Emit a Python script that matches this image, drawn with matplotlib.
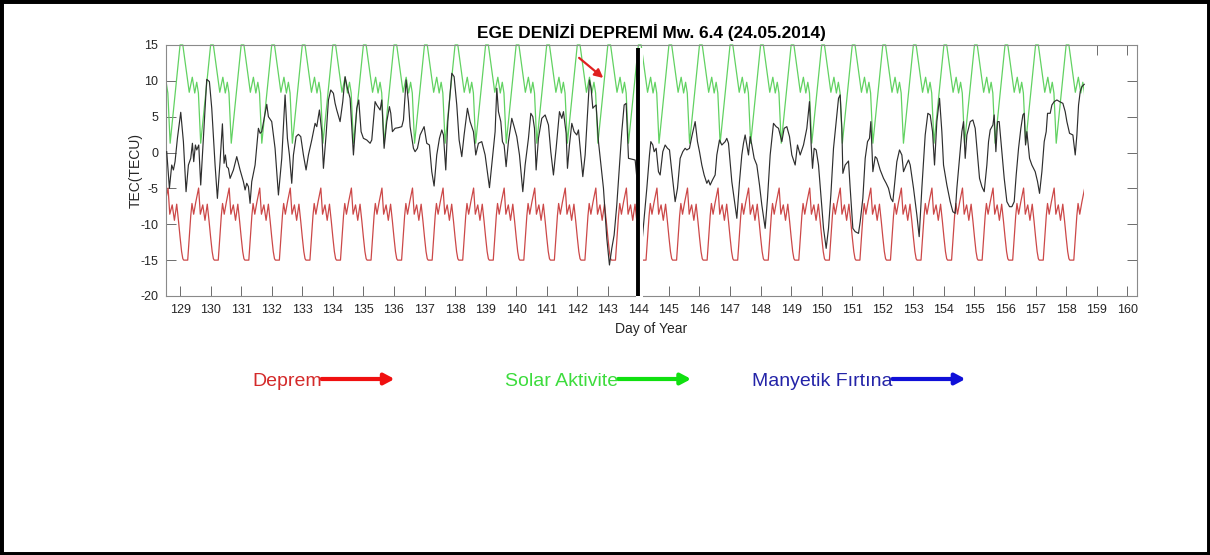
import numpy as np
import matplotlib
matplotlib.use("Agg")
import matplotlib.pyplot as plt
from matplotlib.patches import Rectangle, FancyArrowPatch

plt.rcParams["font.family"] = ["Liberation Sans", "DejaVu Sans"]
plt.rcParams["axes.unicode_minus"] = False

# ---------------------------------------------------------------- data
title = "EGE DENİZİ DEPREMİ Mw. 6.4 (24.05.2014)"
xlabel = "Day of Year"
ylabel = "TEC(TECU)"

obs_start, obs_end = 128.54, 158.59     # observation window (day of year)
quake_day = 144.0                        # earthquake day
gap_start, gap_end = 143.92, 144.15      # no data around the event marker

# daily profile of the upper bound (fraction of day, TECU)
upper_frac = np.array([0.00, 0.09, 0.30, 0.40, 0.48, 0.545, 0.60, 0.675])
upper_val = np.array([15.0, 15.0, 8.4, 10.5, 8.3, 9.8, 8.3, 1.3])

# daily profile of the lower bound (fraction of day, TECU)
lower_frac = np.array([0.00, 0.05, 0.09, 0.12, 0.25, 0.30, 0.35, 0.39,
                       0.445, 0.515, 0.607, 0.663, 0.743, 0.815, 0.89, 0.95])
lower_val = np.array([-11.8, -13.8, -14.8, -15.0, -15.0, -12.0, -8.8, -7.1,
                      -8.6, -6.9, -4.95, -8.6, -7.3, -9.45, -7.2, -9.6])

# observed TEC variation
tec_day = [
    128.563, 128.651, 128.727, 128.782, 128.836, 128.913, 129.022, 129.109, 129.196, 129.273,
    129.349, 129.404, 129.447, 129.502, 129.546, 129.611, 129.676, 129.764, 129.873, 129.960,
    130.037, 130.146, 130.222, 130.309, 130.386, 130.440, 130.484, 130.528, 130.582, 130.637,
    130.746, 130.855, 130.964, 131.073, 131.128, 131.182, 131.237, 131.291, 131.346, 131.455,
    131.564, 131.619, 131.673, 131.837, 131.891, 132.000, 132.109, 132.219, 132.328, 132.437,
    132.513, 132.579, 132.655, 132.710, 132.797, 132.873, 132.950, 133.037, 133.124, 133.201,
    133.310, 133.419, 133.474, 133.561, 133.637, 133.692, 133.779, 133.856, 133.932, 134.019,
    134.074, 134.128, 134.237, 134.325, 134.401, 134.477, 134.565, 134.674, 134.728, 134.783,
    134.848, 134.925, 135.001, 135.110, 135.219, 135.274, 135.383, 135.438, 135.547, 135.601,
    135.678, 135.765, 135.852, 135.896, 135.950, 136.038, 136.147, 136.256, 136.311, 136.398,
    136.474, 136.529, 136.638, 136.692, 136.769, 136.856, 136.987, 137.074, 137.161, 137.238,
    137.314, 137.401, 137.489, 137.565, 137.620, 137.696, 137.762, 137.893, 137.969, 138.056,
    138.133, 138.220, 138.296, 138.405, 138.493, 138.602, 138.678, 138.765, 138.874, 138.984,
    139.126, 139.202, 139.311, 139.366, 139.420, 139.497, 139.551, 139.606, 139.671, 139.747,
    139.857, 139.933, 140.020, 140.108, 140.217, 140.293, 140.402, 140.479, 140.544, 140.599,
    140.653, 140.729, 140.839, 140.948, 141.057, 141.133, 141.220, 141.308, 141.417, 141.493,
    141.548, 141.635, 141.679, 141.744, 141.821, 141.897, 141.984, 142.039, 142.115, 142.181,
    142.257, 142.333, 142.399, 142.453, 142.508, 142.552, 142.617, 142.693, 142.857, 142.966,
    143.053, 143.130, 143.206, 143.293, 143.381, 143.457, 143.534, 143.599, 143.676, 143.894,
    144.134, 144.199, 144.276, 144.363, 144.407, 144.472, 144.516, 144.581, 144.657, 144.712,
    144.799, 144.876, 144.952, 145.018, 145.094, 145.203, 145.280, 145.367, 145.454, 145.530,
    145.585, 145.672, 145.748, 145.858, 145.934, 146.000, 146.076, 146.152, 146.240, 146.294,
    146.349, 146.425, 146.512, 146.567, 146.654, 146.731, 146.840, 146.894, 146.949, 147.058,
    147.134, 147.222, 147.309, 147.385, 147.440, 147.494, 147.549, 147.604, 147.658, 147.713,
    147.789, 147.876, 147.964, 148.040, 148.149, 148.226, 148.313, 148.422, 148.509, 148.586,
    148.695, 148.771, 148.858, 148.946, 149.022, 149.131, 149.207, 149.295, 149.404, 149.513,
    149.600, 149.655, 149.699, 149.753, 149.819, 149.895, 149.972, 150.059, 150.146, 150.222,
    150.299, 150.386, 150.473, 150.550, 150.604, 150.659, 150.692, 150.768, 150.877, 150.932,
    151.019, 151.095, 151.204, 151.259, 151.346, 151.423, 151.499, 151.564, 151.608, 151.674,
    151.750, 151.805, 151.914, 152.023, 152.110, 152.186, 152.263, 152.328, 152.372, 152.459,
    152.546, 152.623, 152.677, 152.765, 152.841, 152.896, 153.005, 153.114, 153.190, 153.277,
    153.387, 153.474, 153.550, 153.627, 153.692, 153.768, 153.856, 153.932, 153.987, 154.096,
    154.205, 154.292, 154.369, 154.423, 154.511, 154.587, 154.641, 154.696, 154.751, 154.860,
    154.947, 155.023, 155.100, 155.165, 155.242, 155.318, 155.405, 155.460, 155.514, 155.602,
    155.645, 155.700, 155.755, 155.809, 155.896, 155.973, 156.060, 156.147, 156.224, 156.300,
    156.365, 156.442, 156.518, 156.584, 156.627, 156.671, 156.715, 156.802, 156.878, 156.933,
    156.987, 157.064, 157.129, 157.206, 157.282, 157.347, 157.391, 157.478, 157.533, 157.609,
    157.697, 157.784, 157.893, 157.969, 158.024, 158.111, 158.220, 158.297, 158.351, 158.406,
    158.460, 158.515, 158.591,
]
tec_val = [
    0.12, -4.99, -1.74, -2.43, -1.27, 1.98, 5.61, 1.52, -5.46, -1.74,
    -0.81, 1.29, -1.27, 1.05, 0.36, 1.05, -4.53, 1.98, 10.21, 9.89,
    6.17, -1.74, -6.39, -1.27, 4.0, -1.50, -0.34, -1.97, -2.20, -3.60,
    -2.43, -0.57, -2.43, -4.06, -5.22, -4.29, -4.76, -7.08, -4.06, -1.74,
    3.38, 2.68, 2.91, 6.72, 5.00, 4.31, 0.59, -5.92, -0.81, 8.03,
    1.98, -0.34, -4.29, -0.34, 2.22, 2.54, 2.22, -0.34, -2.43, -0.34,
    1.75, 4.07, 3.61, 5.93, 2.91, -2.20, 2.45, 7.33, 8.72, 8.26,
    6.86, 5.93, 4.31, 7.10, 10.58, 8.96, 7.56, -0.34, 2.91, 6.17,
    7.33, 2.91, 1.98, 1.75, 1.29, 1.75, 7.10, 6.63, 5.93, 7.33,
    0.59, 4.31, 6.40, 5.47, 2.91, 3.38, 3.47, 3.61, 4.54, 10.12,
    7.10, 3.61, 0.59, 0.12, 0.59, 2.45, 3.61, 1.29, 1.05, -2.67,
    -4.67, -0.34, 1.98, 3.15, 2.45, -2.43, 4.31, 11.05, 10.58, 6.63,
    1.75, -0.57, 2.45, 6.17, 4.31, 2.91, -0.34, 1.29, 1.52, -0.34,
    -4.90, -1.74, 2.91, 8.96, 5.70, 4.31, 1.52, 1.05, -1.97, 1.52,
    4.77, 3.61, 2.22, -0.34, -5.46, -1.74, 1.98, 5.47, 5.00, 3.38,
    -2.43, 1.98, 4.77, 5.24, 3.84, 0.12, -3.13, 0.59, 5.70, 4.77,
    5.70, 2.68, -2.20, 1.05, 4.07, 2.91, 2.45, 3.15, -0.34, -3.36,
    -0.34, 5.24, 10.12, 8.96, 6.17, 6.40, 6.63, 1.52, -4.99, -11.96,
    -15.68, -13.36, -11.50, -7.32, -1.74, 2.91, 6.63, 6.86, -0.81, -1.04,
    -11.73, -8.71, -4.99, -0.34, 1.52, 1.05, 0.12, 0.59, -2.67, -3.13,
    0.12, 1.05, 0.59, 0.36, -2.67, -6.85, -4.99, -0.81, 0.12, 0.59,
    0.36, 0.59, 2.22, 4.31, 1.52, 0.12, -1.74, -3.13, -4.29, -3.83,
    -4.53, -3.83, -3.13, -0.34, 1.75, 1.05, 1.52, 1.98, 1.29, -4.06,
    -6.39, -9.17, -4.06, -0.34, 1.29, 2.45, 1.05, -0.34, 2.22, 1.05,
    -0.81, -1.74, -4.53, -7.32, -10.57, -6.39, -0.34, 4.07, 3.61, 3.38,
    1.52, 3.38, 3.61, 2.22, -0.34, -1.74, 1.05, -0.34, 1.05, 3.38,
    7.10, 1.05, -2.20, 0.59, 0.36, -1.74, -5.92, -10.57, -13.36, -10.57,
    -5.92, 0.59, 4.31, 7.56, 8.03, 3.38, -2.90, -1.74, -1.18, -4.99,
    -10.57, -11.03, -11.27, -9.64, -6.39, -0.81, 1.52, 1.98, 4.31, -2.67,
    -0.57, -0.81, -2.43, -3.60, -4.29, -4.99, -6.39, -6.85, -4.99, -1.27,
    0.36, -0.34, -2.67, -1.74, -1.04, -1.74, -4.99, -8.71, -11.73, -4.99,
    2.45, 5.47, 5.24, 2.91, -1.74, 4.31, 7.56, 2.91, -1.74, -4.53,
    -6.85, -8.25, -8.48, -4.99, -0.81, 2.91, 4.31, -0.81, 2.45, 4.31,
    4.54, 3.38, -0.34, -3.60, -4.76, -5.46, -1.74, 1.52, 3.15, 3.84,
    5.24, 0.12, 4.31, 4.31, 0.12, -3.60, -6.85, -7.55, -7.55, -6.85,
    -3.13, 0.59, 3.38, 5.24, 5.47, 1.05, 2.91, -0.81, -1.74, -2.20,
    -2.67, -4.06, -5.69, -2.67, 1.52, 2.91, 5.47, 5.47, 6.63, 7.10,
    7.33, 7.10, 6.86, 5.70, 4.31, 2.68, 2.45, -0.34, 2.45, 6.63,
    8.49, 9.19, 9.51,
]

# annotation arrow marking the pre-event anomaly (data coordinates)
anomaly_tail = (142.06, 13.2)
anomaly_head = (142.85, 10.4)

legend_labels = ["Deprem", "Solar Aktivite", "Manyetik Fırtına"]
legend_text_colors = ["#d42a2a", "#3ddc3d", "#2424a8"]
legend_arrow_colors = ["#f01010", "#10e010", "#1010d8"]

# ---------------------------------------------------------------- figure
fig = plt.figure(figsize=(12.1, 5.55), dpi=100)
ax = fig.add_axes([0.1372, 0.4667, 0.8025, 0.4523])

days = np.arange(int(np.floor(obs_start)), int(np.ceil(obs_end)) + 1)
t_up = (days[:, None] + upper_frac[None, :]).ravel()
v_up = np.tile(upper_val, len(days))
t_lo = (days[:, None] + lower_frac[None, :]).ravel()
v_lo = np.tile(lower_val, len(days))

window = Rectangle((obs_start, -20), obs_end - obs_start, 35.2,
                   transform=ax.transData, fill=False, lw=0)
ax.add_patch(window)
l_up, = ax.plot(t_up, v_up, color="#62d262", lw=0.9, zorder=2)
l_lo, = ax.plot(t_lo, v_lo, color="#cc4848", lw=0.9, zorder=2)
for ln in (l_up, l_lo):
    ln.set_clip_path(window)
ax.plot(tec_day, tec_val, color="#2e2e2e", lw=0.85, zorder=3)

# blank band at the event and the event marker
ax.add_patch(Rectangle((gap_start, -20.4), gap_end - gap_start, 35.0,
                       facecolor="white", edgecolor="none", zorder=4, clip_on=False))
ax.plot([quake_day, quake_day], [-20, 14.6], color="black", lw=2.8,
        zorder=5, solid_capstyle="butt", clip_on=False)

ax.annotate("", xy=anomaly_head, xytext=anomaly_tail,
            arrowprops=dict(arrowstyle="-|>,head_length=0.5,head_width=0.25",
                            color="#e02020", lw=1.6, shrinkA=0, shrinkB=0),
            zorder=6)

ax.set_xlim(128.54, 160.32)
ax.set_ylim(-20, 15)
ax.set_xticks(np.arange(129, 161))
ax.set_yticks(np.arange(-20, 16, 5))

for s in ax.spines.values():
    s.set_color("#8a8a8a")
    s.set_linewidth(0.8)
ax.tick_params(axis="both", direction="in", length=7, width=0.6, color="#555555",
               labelcolor="#262626", labelsize=9)
ax.tick_params(axis="x", pad=6, top=False)
ax.tick_params(axis="y", pad=5.5, right=True)

top = ax.secondary_xaxis("top")
top.set_xticks([159, 160])
top.tick_params(direction="in", length=7, width=0.6, color="#555555", labeltop=False)
top.spines["top"].set_visible(False)

ax.set_xlabel(xlabel, fontsize=10, color="#262626", labelpad=4)
ax.set_ylabel(ylabel, fontsize=10, color="#262626", labelpad=-2)
ax.set_title(title, fontsize=12.4, fontweight="bold", pad=5)

# legend line below the chart
text_x = [252 / 1210, 505 / 1210, 752 / 1210]
arrow_len = 73 / 1210
y_base = 1 - 386 / 555
y_arrow = 1 - 379 / 555
fig.canvas.draw()
for lab, tx, tc, ac in zip(legend_labels, text_x, legend_text_colors, legend_arrow_colors):
    t = fig.text(tx, y_base, lab, fontsize=14, color=tc, va="baseline", ha="left")
    bb = t.get_window_extent(renderer=fig.canvas.get_renderer()).transformed(
        fig.transFigure.inverted())
    x0 = bb.x1
    fig.add_artist(FancyArrowPatch(
        (x0, y_arrow), (x0 + arrow_len, y_arrow),
        transform=fig.transFigure,
        arrowstyle="-|>,head_length=0.6,head_width=0.32",
        mutation_scale=10, color=ac, lw=3.0, shrinkA=0, shrinkB=0))

# outer frame
fig.add_artist(Rectangle((0, 0), 1, 1, transform=fig.transFigure, fill=False,
                         lw=5, edgecolor="black"))

fig.savefig("out.png", dpi=100)
